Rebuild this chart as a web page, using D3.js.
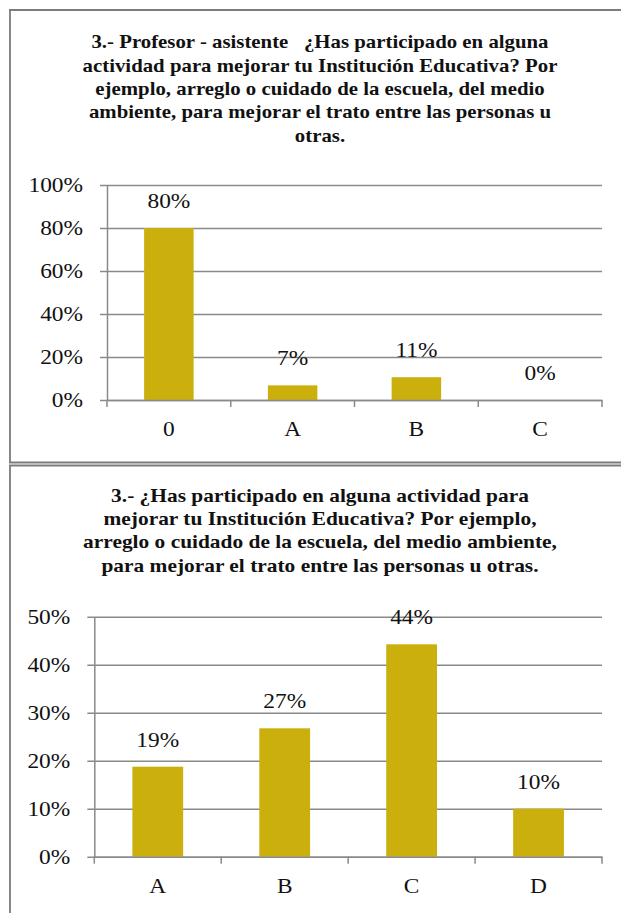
<!DOCTYPE html>
<meta charset="utf-8">
<script src="https://d3js.org/d3.v7.min.js"></script>
<style>
  body { margin: 0; background: #fff; }
  svg { display: block; }
  svg text { font-family: "Liberation Serif", "Times New Roman", serif; white-space: pre; }
</style>
<body>
<div id="chart"></div>
<script>
// ---- data ----
var title1 = [
  "3.- Profesor - asistente   \u00bfHas participado en alguna",
  "actividad para mejorar tu Instituci\u00f3n Educativa? Por",
  "ejemplo, arreglo o cuidado de la escuela, del medio",
  "ambiente, para mejorar el trato entre las personas u",
  "otras."
];
var cats1 = ["0", "A", "B", "C"];
var vals1 = [0.80, 0.068, 0.106, 0];
var ticks1 = [0, 0.2, 0.4, 0.6, 0.8, 1.0];

var title2 = [
  "3.- \u00bfHas participado en alguna actividad para",
  "mejorar tu Instituci\u00f3n Educativa? Por ejemplo,",
  "arreglo o cuidado de la escuela, del medio ambiente,",
  "para mejorar el trato entre las personas u otras."
];
var cats2 = ["A", "B", "C", "D"];
var vals2 = [0.1875, 0.2675, 0.4425, 0.10];
var ticks2 = [0, 0.1, 0.2, 0.3, 0.4, 0.5];

var W = 621, H = 913;
var barColor = "#cbaf0c", gridColor = "#8a8a8a", frameColor = "#7c7c7c";
var pct = d3.format(".0%");

var svg = d3.select("#chart").append("svg")
  .attr("width", W).attr("height", H);

// frames
function hline(y, x1, x2) {
  svg.append("line").attr("x1", x1).attr("x2", x2).attr("y1", y).attr("y2", y)
    .attr("stroke", frameColor).attr("stroke-width", 1.8);
}
function vline(x, y1, y2) {
  svg.append("line").attr("x1", x).attr("x2", x).attr("y1", y1).attr("y2", y2)
    .attr("stroke", frameColor).attr("stroke-width", 1.8);
}
hline(10, 9, W);
vline(10, 9, 463);
hline(462.5, 9, W);
hline(465.5, 9, W);
vline(10, 465, H);

// stretch serif text horizontally (source picture was widened)
var SX = 1.17;
function stretch(sel) {
  sel.each(function() {
    var t = d3.select(this);
    var x = +t.attr("x") || 0, y = +t.attr("y") || 0;
    t.attr("x", 0).attr("y", 0)
      .attr("transform", "translate(" + x + "," + y + ") scale(" + SX + ",1)");
  });
}

function drawTitle(lines, cx, y0, targetW) {
  var g = svg.append("g");
  var t = g.selectAll("text").data(lines).join("text")
    .attr("x", 0)
    .attr("y", function(d, i) { return y0 + i * 23.3; })
    .attr("text-anchor", "middle")
    .style("font-weight", "bold")
    .style("font-size", "18px")
    .attr("fill", "#111")
    .text(function(d) { return d; });
  var maxW = d3.max(t.nodes(), function(n) { return n.getComputedTextLength(); });
  g.attr("transform", "translate(" + cx + ",0) scale(" + (targetW / maxW) + ",1)");
}

function drawChart(cats, vals, ticks, left, right, top, bottom) {
  var x = d3.scaleBand().domain(cats).range([left, right])
    .paddingInner(0.6).paddingOuter(0.3);
  var y = d3.scaleLinear().domain([0, d3.max(ticks)]).range([bottom, top]);

  // grid + y axis
  var ya = svg.append("g")
    .attr("transform", "translate(" + left + ",0)")
    .call(d3.axisLeft(y).tickValues(ticks).tickFormat(pct)
      .tickSizeInner(-(right - left)).tickSizeOuter(0).tickPadding(24));
  ya.selectAll(".tick line").attr("x1", -7).attr("stroke", gridColor).attr("stroke-width", 1.5);
  ya.select(".domain").attr("stroke", gridColor).attr("stroke-width", 1.5);
  ya.selectAll("text").style("font-size", "20px").attr("fill", "#111");
  stretch(ya.selectAll("text"));

  // bars
  svg.append("g").selectAll("rect").data(vals).join("rect")
    .attr("x", function(d, i) { return x(cats[i]); })
    .attr("y", function(d) { return y(d); })
    .attr("width", x.bandwidth())
    .attr("height", function(d) { return y(0) - y(d); })
    .attr("fill", barColor);

  // x axis
  var xa = svg.append("g")
    .attr("transform", "translate(0," + bottom + ")")
    .call(d3.axisBottom(x).tickSize(0).tickPadding(22));
  xa.select(".domain").attr("stroke", gridColor).attr("stroke-width", 1.5);
  xa.selectAll("text").style("font-size", "20px").attr("fill", "#111");
  stretch(xa.selectAll("text"));

  // category boundary ticks
  var edges = cats.map(function(c) { return x(c) - x.step() * x.paddingInner() / 2; });
  edges.push(right);
  xa.selectAll(".edge").data(edges).join("line")
    .attr("class", "edge")
    .attr("x1", function(d) { return d; }).attr("x2", function(d) { return d; })
    .attr("y1", 0).attr("y2", 7)
    .attr("stroke", gridColor).attr("stroke-width", 1.5);

  // data labels
  var lab = svg.append("g").selectAll("text").data(vals).join("text")
    .attr("x", function(d, i) { return x(cats[i]) + x.bandwidth() / 2; })
    .attr("y", function(d) { return y(d) - 20; })
    .attr("text-anchor", "middle")
    .style("font-size", "20px")
    .attr("fill", "#111")
    .text(function(d) { return pct(d); });
  stretch(lab);
}

drawTitle(title1, 320, 48.5, 475);
drawChart(cats1, vals1, ticks1, 107, 602, 185, 400);

drawTitle(title2, 320, 501.7, 474);
drawChart(cats2, vals2, ticks2, 94.3, 602, 616.7, 856.7);
</script>
</body>
